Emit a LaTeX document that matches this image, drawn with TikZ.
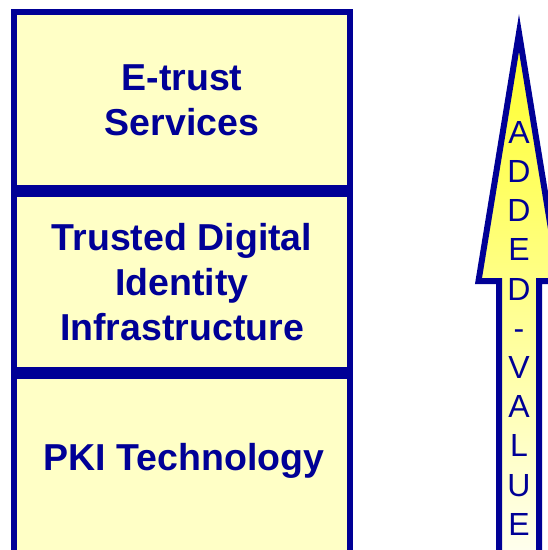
\documentclass[tikz,border=0pt]{standalone}
\usepackage{fontspec}
\setmainfont{Liberation Sans}
\usetikzlibrary{positioning}
\definecolor{navy}{RGB}{0,0,150}
\definecolor{paleyellow}{RGB}{255,255,198}
\definecolor{brightyellow}{RGB}{255,255,40}
\definecolor{creamwhite}{RGB}{255,255,245}

\begin{document}
\begin{tikzpicture}[x=1pt, y=-1pt,
  layer/.style={draw=navy, line width=6pt, fill=paleyellow, minimum width=336pt, minimum height=176pt, inner sep=0pt, align=center, text=navy, font=\fontsize{37.5}{45}\selectfont\bfseries},
  caption/.style={text=navy, inner sep=0pt, font=\fontsize{37.5}{45}\selectfont\bfseries},
  upward/.style={draw=navy, line width=6pt, top color=brightyellow, bottom color=creamwhite, miter limit=10}
]
\useasboundingbox (0,0) rectangle (548,550);
\clip (0,0) rectangle (548,550);

\node[layer] (etrust) at (182,100) {E-trust\\Services};
\node[layer, below=0pt of etrust] (tdi) {Trusted Digital\\Identity\\Infrastructure};
\node[layer, minimum height=190pt, below=0pt of tdi] (base) {};
\node[caption, anchor=base] (pki) at (184,470) {PKI Technology};

\draw[upward] (519,33) -- (478.5,281) -- (499,281) -- (499,570) -- (539,570) -- (539,281) -- (559.5,281) -- cycle;
\node[anchor=north, inner sep=0pt, align=center, text=navy, font=\fontsize{32}{39.2}\selectfont] (addedvalue) at (519,121) {A\\D\\D\\E\\D\\-\\V\\A\\L\\U\\E};
\end{tikzpicture}
\end{document}
